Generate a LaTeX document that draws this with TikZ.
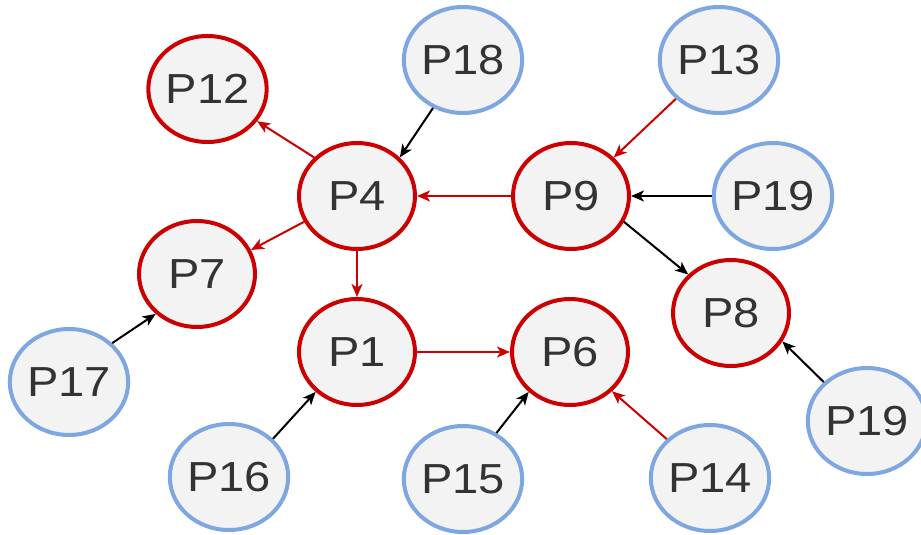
\documentclass[tikz,border=0pt]{standalone}
\usepackage{fontspec}
\setmainfont{Liberation Sans}
\usetikzlibrary{shapes.geometric,arrows.meta}
\definecolor{nred}{HTML}{CC0000}
\definecolor{nblue}{HTML}{7EA6E0}
\definecolor{nfill}{HTML}{F3F3F3}
\definecolor{ntext}{HTML}{333333}
\tikzset{
  pnode/.style={ellipse, minimum width=116pt, minimum height=106pt, inner sep=0pt,
    line width=4pt, fill=nfill, text=ntext,
    font=\fontsize{42}{42}\selectfont},
  rnode/.style={pnode, draw=nred},
  bnode/.style={pnode, draw=nblue},
  conn/.style={line width=2pt, -{Stealth[length=13pt,width=11pt,inset=3.5pt]}},
  rconn/.style={conn, draw=nred, color=nred},
  kconn/.style={conn, draw=black},
}
\newcommand{\lbl}[1]{\scalebox{1.12}[1]{#1}}
\begin{document}
\begin{tikzpicture}[x=1pt,y=-1pt]
\path[use as bounding box] (0,0) rectangle (921,535);
\clip (0,0) rectangle (921,535);
\node[rnode] (P12) at (207.5,89) {\lbl{P12}};
\node[bnode] (P18) at (463,60) {\lbl{P18}};
\node[bnode] (P13) at (719,60) {\lbl{P13}};
\node[rnode] (P4) at (357,196) {\lbl{P4}};
\node[rnode] (P9) at (571,196) {\lbl{P9}};
\node[bnode] (P19a) at (773,196) {\lbl{P19}};
\node[rnode] (P7) at (197,274) {\lbl{P7}};
\node[rnode] (P8) at (731,313) {\lbl{P8}};
\node[rnode] (P1) at (357,352) {\lbl{P1}};
\node[rnode] (P6) at (570,352) {\lbl{P6}};
\node[bnode] (P17) at (69,382) {\lbl{P17}};
\node[bnode] (P19b) at (867,421) {\lbl{P19}};
\node[bnode] (P16) at (229,477) {\lbl{P16}};
\node[bnode] (P15) at (463,479) {\lbl{P15}};
\node[bnode] (P14) at (710,478) {\lbl{P14}};

\draw[kconn] (P18.-122) -- (P4.42);
\draw[rconn] (P4.138) -- (P12.-33);
\draw[rconn] (P4.206) -- (P7.24);
\draw[rconn] (P4.south) -- (P1.north);
\draw[rconn] (P9.west) -- (P4.east);
\draw[rconn] (P13.222) -- (P9.42);
\draw[kconn] (P19a.west) -- (P9.east);
\draw[kconn] (P9.-26) -- (P8.138);
\draw[kconn] (P19b.138) -- (P8.-29);
\draw[kconn] (P17.42) -- (P7.224);
\draw[kconn] (P16.41) -- (P1.224);
\draw[rconn] (P1.east) -- (P6.west);
\draw[kconn] (P15.54) -- (P6.224);
\draw[rconn] (P14.138) -- (P6.-43);
\end{tikzpicture}
\end{document}
